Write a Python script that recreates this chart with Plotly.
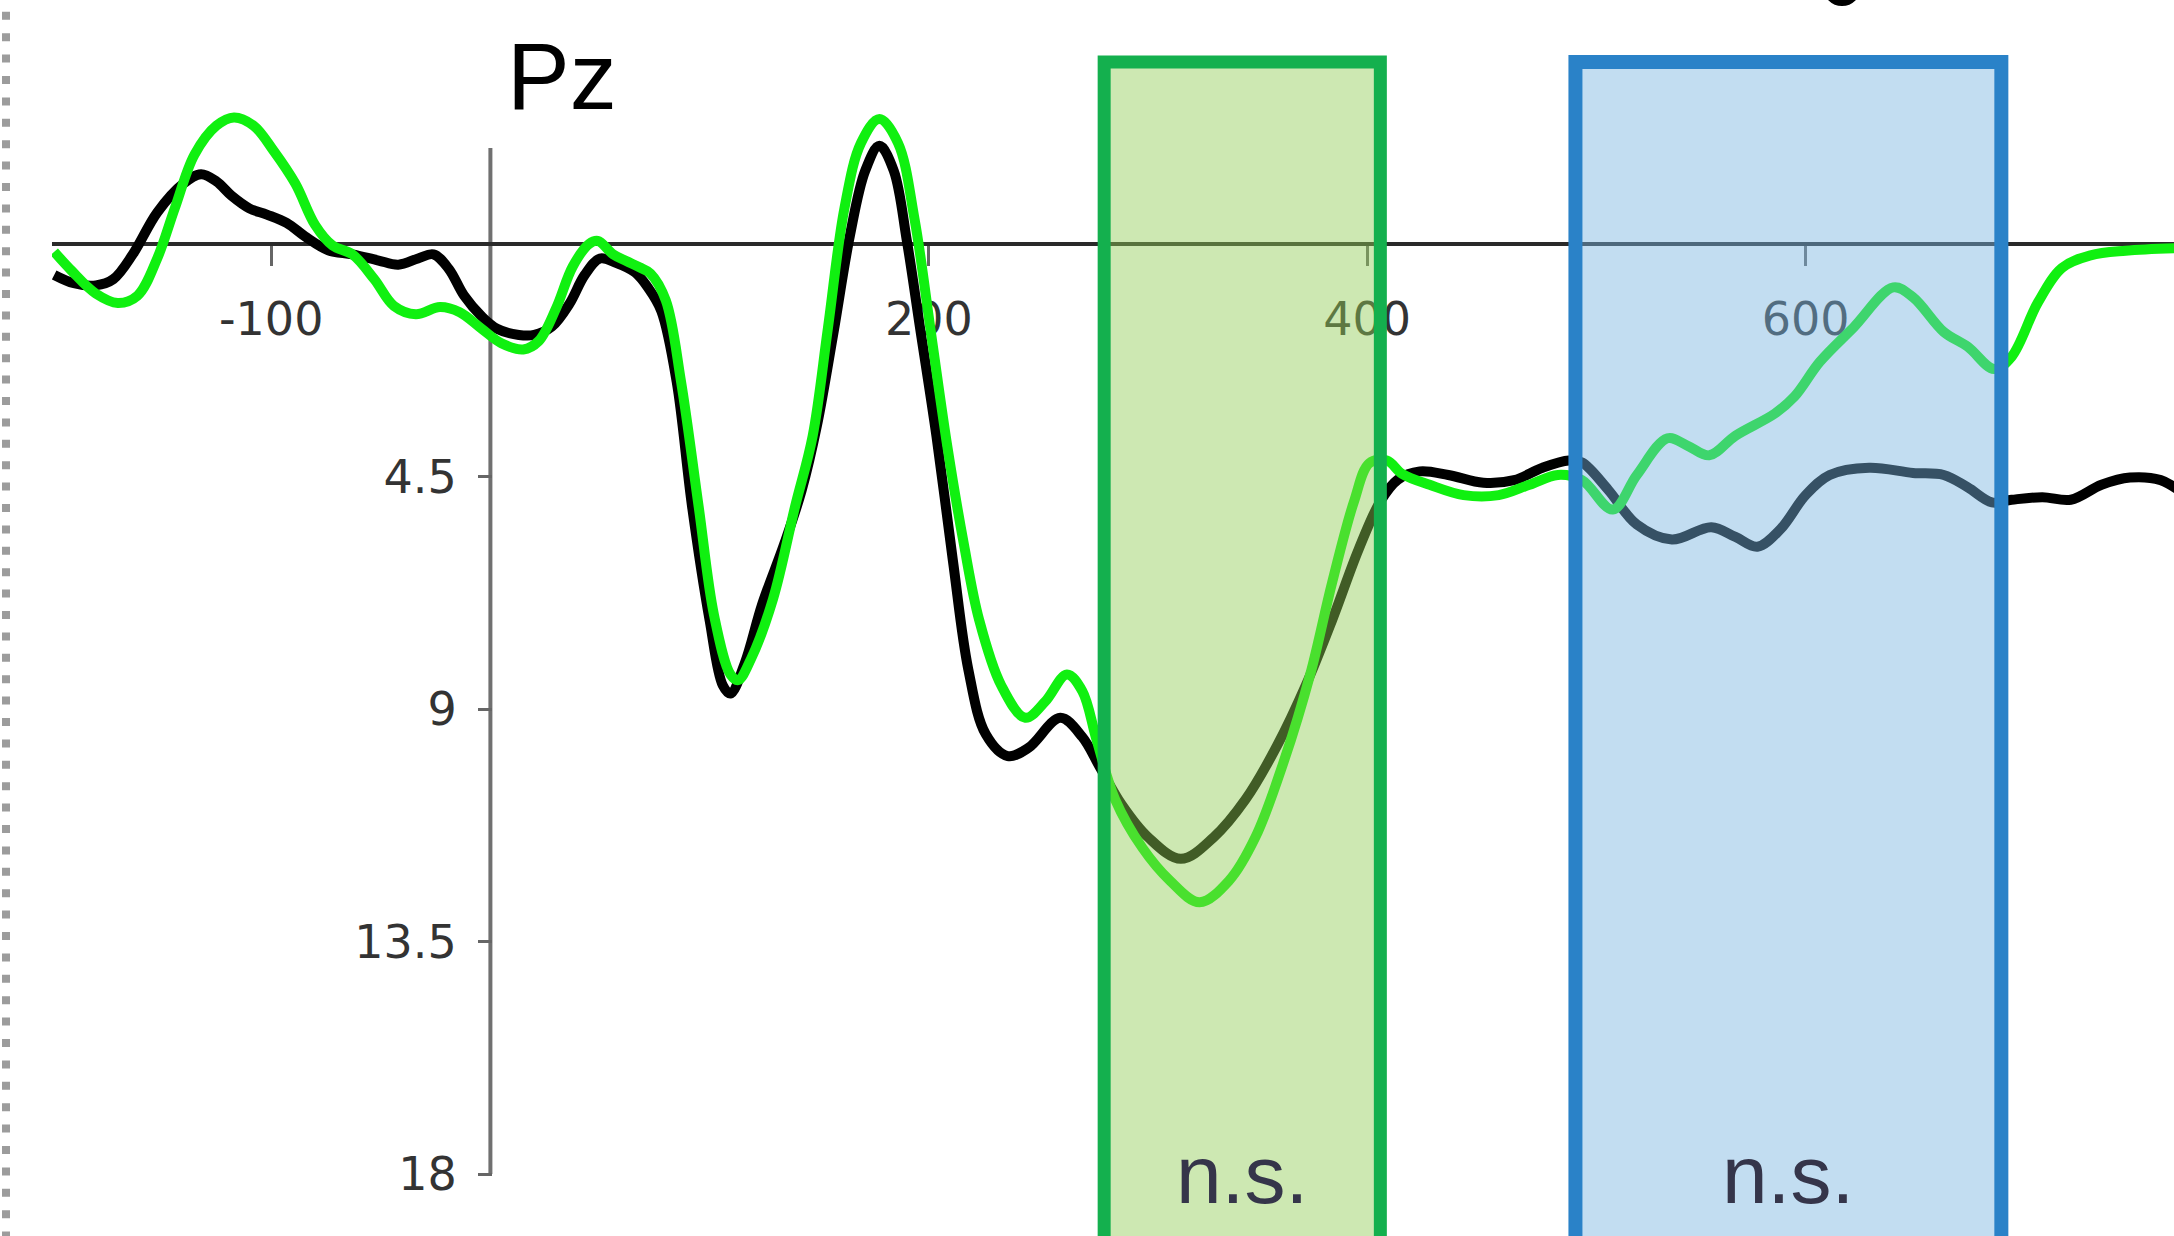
import plotly.graph_objects as go

# ---- data (ms, microvolts; positive plotted downward) ----
time_black = [-199, -190, -180, -172, -163, -152, -140, -132, -125, -118, -110, -102, -93, -84, -74, -63, -51, -42, -33, -26,
              -19, -12, -4, 3, 13, 20, 28, 36, 43, 50, 57, 66, 72, 78, 85, 92, 100, 106, 109.5, 116,
              124, 134, 142, 149, 156.5, 164, 171, 177.5, 184, 190, 196, 203.5, 211, 218, 226, 236, 245.5, 260, 270, 278,
              288, 300, 315, 330, 344.5, 359, 372, 384, 396, 406, 414, 424, 437, 453, 467, 480, 492, 498, 510, 523,
              539, 557, 568, 578, 588.5, 600, 611, 629, 649, 663, 674, 685, 694, 708, 721, 735, 748, 762, 770]
amp_black = [0.60, 0.76, 0.80, 0.68, 0.19, -0.61, -1.17, -1.35, -1.21, -0.93, -0.69, -0.57, -0.41, -0.13, 0.12, 0.20, 0.32, 0.40, 0.28, 0.20,
             0.48, 1.00, 1.40, 1.64, 1.76, 1.76, 1.60, 1.16, 0.60, 0.28, 0.36, 0.55, 0.85, 1.30, 2.67, 5.08, 7.28, 8.54, 8.70, 8.12,
             6.97, 5.81, 4.77, 3.51, 1.72, -0.16, -1.42, -1.90, -1.42, -0.06, 1.62, 3.72, 6.13, 8.23, 9.49, 9.91, 9.75, 9.17, 9.54, 10.12,
             10.85, 11.48, 11.90, 11.48, 10.75, 9.70, 8.54, 7.28, 5.92, 4.98, 4.56, 4.40, 4.47, 4.62, 4.57, 4.33, 4.19, 4.23, 4.76, 5.43,
             5.72, 5.48, 5.67, 5.86, 5.52, 4.86, 4.47, 4.33, 4.43, 4.47, 4.71, 5.00, 4.95, 4.90, 4.95, 4.66, 4.52, 4.57, 4.76]

time_green = [-199, -191, -180, -170, -161, -152, -144, -135, -125, -117, -108, -99, -89, -80, -72, -63, -53, -44, -34, -23,
              -14, -4, 5, 15, 22, 30, 37.5, 45, 49, 56, 62, 68, 73, 80, 87, 95, 102, 109.5, 113, 119,
              129, 139, 147, 154, 161.5, 169, 177.5, 186, 193.5, 201, 208.5, 216, 223, 233, 244, 253, 263, 270, 276.5, 285,
              297.5, 310, 323.5, 337, 349, 362, 374, 384, 394, 401, 409, 416, 428.5, 444, 460, 474, 487, 498, 512, 523,
              537, 546, 556, 568, 586, 595, 606.5, 622, 640, 649, 663, 674, 686, 694, 706, 717, 730, 746, 770]
amp_green = [0.15, 0.52, 0.96, 1.14, 1.00, 0.28, -0.69, -1.73, -2.29, -2.45, -2.29, -1.81, -1.17, -0.37, 0.03, 0.20, 0.68, 1.20, 1.36, 1.22,
             1.32, 1.64, 1.92, 2.04, 1.88, 1.24, 0.44, 0.00, -0.06, 0.20, 0.33, 0.45, 0.57, 1.09, 2.67, 5.08, 7.18, 8.33, 8.44, 8.02,
             6.86, 5.08, 3.72, 1.62, -0.69, -1.95, -2.42, -1.95, -0.48, 1.72, 3.93, 5.81, 7.28, 8.54, 9.17, 8.86, 8.33, 8.65, 9.59, 10.75,
             11.69, 12.32, 12.74, 12.32, 11.48, 10.01, 8.33, 6.55, 4.98, 4.24, 4.19, 4.45, 4.66, 4.86, 4.86, 4.66, 4.47, 4.57, 5.14, 4.47,
             3.76, 3.90, 4.09, 3.71, 3.28, 2.95, 2.28, 1.61, 0.84, 1.03, 1.70, 1.99, 2.42, 2.18, 1.13, 0.46, 0.22, 0.13, 0.08]

x_tick_vals = [-100, 200, 400, 600]
x_tick_text = ["-100", "200", "400", "600"]
y_tick_vals = [4.5, 9, 13.5, 18]
y_tick_text = ["4.5", "9", "13.5", "18"]

windows = [  # (start ms, end ms, label)
    (280, 406, "n.s."),
    (495, 689.3, "n.s."),
]
window_fill = ["rgba(144,204,84,0.45)", "rgba(119,179,224,0.45)"]
window_line = ["#14b04e", "#2a82c8"]
window_width = [13, 14]

W, H = 2174, 1236
PX_PER_MS = 2.192
PX_PER_UV = 51.67
X0_PX = 490   # pixel of 0 ms
Y0_PX = 244   # pixel of 0 uV
LEFT_PX = 52

x_range = [-200, -200 + (W - LEFT_PX) / PX_PER_MS]
y_range = [(H - Y0_PX) / PX_PER_UV, -Y0_PX / PX_PER_UV]

fig = go.Figure()
fig.add_trace(go.Scatter(x=time_black, y=amp_black, mode="lines",
                         line=dict(color="#000000", width=10, shape="spline"),
                         showlegend=False, hoverinfo="skip"))
fig.add_trace(go.Scatter(x=time_green, y=amp_green, mode="lines",
                         line=dict(color="#10f010", width=10, shape="spline"),
                         showlegend=False, hoverinfo="skip"))

shapes = []
# y axis line (from top of axis to last tick)
shapes.append(dict(type="line", xref="x", yref="y", x0=0, x1=0,
                   y0=(148 - Y0_PX) / PX_PER_UV, y1=18,
                   line=dict(color="#707070", width=4), layer="below"))
top_uv = (62 - Y0_PX) / PX_PER_UV
for (a, b, _), fc, lc, lw in zip(windows, window_fill, window_line, window_width):
    shapes.append(dict(type="rect", xref="x", yref="y", x0=a, x1=b, y0=top_uv, y1=22,
                       fillcolor=fc, line=dict(color=lc, width=lw), layer="above"))
# dotted frame on the left
shapes.append(dict(type="line", xref="paper", yref="paper", x0=6 / W, x1=6 / W,
                   y0=1 - 11.8 / H, y1=0,
                   line=dict(color="#9c9c9c", width=8, dash="8px,13.4px"), layer="above"))
# tail of a cut-off glyph at the very top edge
shapes.append(dict(type="circle", xref="paper", yref="paper",
                   x0=1826 / W, x1=1858 / W, y0=1 - 3 / H, y1=1 + 29 / H,
                   line=dict(color="#000000", width=6), layer="above"))

annotations = []
for (a, b, lab) in windows:
    annotations.append(dict(x=(a + b) / 2, y=1 - 1174.5 / H, xref="x", yref="paper",
                            text=lab, showarrow=False, xanchor="center", yanchor="middle",
                            font=dict(family="Liberation Sans, Arial, sans-serif", size=82, color="#35354a")))
annotations.append(dict(x=505 / W, y=1 - 76 / H, xref="paper", yref="paper", text="Pz",
                        showarrow=False, xanchor="left", yanchor="middle",
                        font=dict(family="Liberation Sans, Arial, sans-serif", size=94, color="#000000")))

tick_font = dict(family="DejaVu Sans, sans-serif", size=46, color="#333333")

fig.update_layout(
    width=W, height=H, autosize=False,
    margin=dict(l=0, r=0, t=0, b=0, pad=0),
    paper_bgcolor="white", plot_bgcolor="white",
    showlegend=False,
    shapes=shapes, annotations=annotations,
    xaxis=dict(domain=[LEFT_PX / W, 1], range=x_range, anchor="free", position=1 - Y0_PX / H,
               showline=True, linecolor="#2a2a2a", linewidth=3.5,
               ticks="outside", ticklen=20, tickwidth=3, tickcolor="#666666",
               tickmode="array", tickvals=x_tick_vals, ticktext=x_tick_text, tickfont=tick_font,
               ticklabelstandoff=14,
               showgrid=False, zeroline=False, layer="below traces", fixedrange=True),
    yaxis=dict(domain=[0, 1], range=y_range, anchor="free", position=X0_PX / W + 0.0009,
               showline=False, ticks="outside", ticklen=14, tickwidth=3, tickcolor="#666666",
               tickmode="array", tickvals=y_tick_vals, ticktext=y_tick_text, tickfont=tick_font,
               ticklabelstandoff=12,
               showgrid=False, zeroline=False, layer="below traces", fixedrange=True),
)

fig.write_html("out.html", config={"displayModeBar": False})
